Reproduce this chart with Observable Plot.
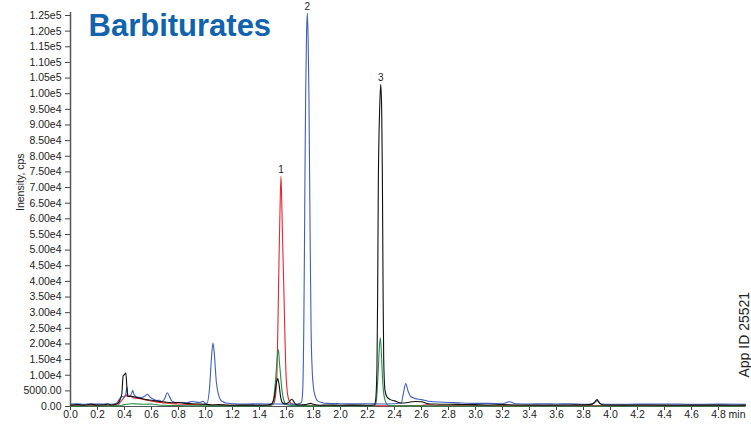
<!DOCTYPE html>
<html>
<head>
<meta charset="utf-8">
<script src="https://cdn.jsdelivr.net/npm/d3@7"></script>
<script src="https://cdn.jsdelivr.net/npm/@observablehq/plot@0.6"></script>
<style>
  body { margin: 0; background: #fff; }
  g[aria-label="title"] text { letter-spacing: 0.9px; }
</style>
</head>
<body>
<div id="chart"></div>
<script>
// Retention time (min) and intensity (cps) for each extracted ion trace.
const timeGreen = [0.00, 0.20, 0.35, 0.40, 0.45, 0.50, 0.55, 0.60, 0.65, 0.70, 0.80, 1.00, 1.20, 1.45, 1.49, 1.505, 1.52, 1.532, 1.54, 1.548, 1.558, 1.567, 1.58, 1.60, 1.70, 2.00, 2.25, 2.262, 2.27, 2.28, 2.288, 2.295, 2.303, 2.31, 2.318, 2.33, 2.345, 2.37, 2.50, 3.00, 3.50, 4.00, 4.50, 5.00];
const intGreen  = [150, 150, 200, 600, 900, 800, 700, 800, 500, 400, 300, 200, 200, 200, 500, 2500, 9000, 16000, 18200, 14000, 9000, 5000, 2000, 600, 200, 150, 200, 1000, 4000, 12000, 19000, 22000, 17000, 10000, 5000, 2000, 600, 200, 200, 150, 150, 150, 150, 150];

const timeRed = [0.00, 0.10, 0.20, 0.30, 0.35, 0.37, 0.39, 0.41, 0.42, 0.44, 0.47, 0.50, 0.55, 0.60, 0.65, 0.70, 0.75, 0.80, 0.90, 1.00, 1.10, 1.20, 1.30, 1.40, 1.48, 1.50, 1.51, 1.52, 1.53, 1.538, 1.545, 1.552, 1.559, 1.566, 1.573, 1.58, 1.587, 1.595, 1.605, 1.62, 1.64, 1.67, 1.80, 2.00, 2.20, 2.40, 2.60, 2.65, 2.70, 3.00, 3.50, 4.00, 4.50, 5.00];
const intRed  = [300, 250, 300, 250, 400, 1500, 2500, 3800, 3200, 3400, 2700, 2600, 2200, 1700, 1400, 1100, 900, 800, 600, 500, 450, 400, 350, 350, 400, 600, 1500, 4000, 12000, 30000, 48000, 63000, 73600, 63000, 50000, 38000, 25000, 12000, 5000, 1800, 800, 400, 300, 300, 250, 250, 300, 600, 300, 300, 250, 300, 250, 250];

const timeBlue = [0.00, 0.05, 0.10, 0.15, 0.20, 0.25, 0.30, 0.34, 0.36, 0.38, 0.40, 0.41, 0.418, 0.425, 0.44, 0.455, 0.462, 0.47, 0.49, 0.52, 0.55, 0.569, 0.59, 0.62, 0.64, 0.658, 0.675, 0.695, 0.717, 0.735, 0.75, 0.78, 0.82, 0.86, 0.90, 0.93, 0.96, 0.98, 1.00, 1.01, 1.03, 1.045, 1.055, 1.065, 1.08, 1.095, 1.11, 1.13, 1.15, 1.20, 1.30, 1.40, 1.50, 1.60, 1.68, 1.71, 1.72, 1.728, 1.733, 1.737, 1.742, 1.748, 1.754, 1.760, 1.766, 1.771, 1.776, 1.782, 1.79, 1.80, 1.815, 1.83, 1.86, 1.90, 2.00, 2.10, 2.20, 2.30, 2.40, 2.45, 2.465, 2.483, 2.50, 2.52, 2.55, 2.60, 2.65, 2.70, 2.80, 2.90, 3.00, 3.10, 3.20, 3.25, 3.30, 3.40, 3.50, 3.60, 3.70, 3.80, 3.87, 3.90, 3.93, 4.00, 4.20, 4.40, 4.60, 4.80, 5.00];
const intBlue  = [800, 900, 700, 850, 750, 800, 700, 1000, 2200, 3300, 3000, 4000, 6200, 3500, 3200, 4500, 5200, 3800, 3000, 2900, 3300, 3900, 3000, 2200, 1900, 2000, 1600, 2300, 4400, 3000, 1800, 1300, 1300, 1200, 1600, 1400, 1300, 1700, 1000, 1000, 6000, 16000, 20300, 17000, 8000, 4000, 2200, 1500, 1100, 900, 800, 850, 800, 750, 800, 1200, 5000, 25000, 50000, 75000, 100000, 118000, 125800, 118000, 100000, 75000, 50000, 25000, 12000, 6000, 3000, 1800, 1300, 1000, 900, 850, 900, 800, 900, 1100, 4000, 7300, 5000, 3200, 2600, 2200, 1700, 1500, 1300, 1100, 1000, 1000, 900, 1500, 900, 800, 900, 800, 850, 700, 900, 1800, 800, 700, 750, 800, 700, 750, 700];

const timeBlack = [0.00, 0.05, 0.10, 0.15, 0.20, 0.25, 0.28, 0.30, 0.34, 0.36, 0.38, 0.39, 0.40, 0.41, 0.418, 0.425, 0.45, 0.48, 0.52, 0.56, 0.60, 0.65, 0.70, 0.75, 0.80, 0.85, 0.90, 0.95, 1.00, 1.05, 1.10, 1.20, 1.30, 1.40, 1.46, 1.49, 1.51, 1.525, 1.535, 1.545, 1.555, 1.57, 1.59, 1.62, 1.638, 1.655, 1.67, 1.70, 1.74, 1.78, 1.80, 1.85, 1.90, 2.00, 2.10, 2.20, 2.25, 2.26, 2.27, 2.275, 2.28, 2.29, 2.298, 2.305, 2.31, 2.315, 2.32, 2.33, 2.345, 2.37, 2.40, 2.43, 2.46, 2.50, 2.55, 2.60, 2.65, 2.70, 2.80, 2.90, 3.00, 3.10, 3.20, 3.30, 3.50, 3.70, 3.85, 3.88, 3.90, 3.92, 3.95, 4.10, 4.30, 4.50, 4.70, 4.90, 5.00];
const intBlack  = [500, 600, 450, 700, 500, 550, 800, 500, 700, 1500, 4000, 9800, 10200, 10700, 6000, 3200, 3300, 3000, 2600, 2200, 2000, 1700, 1400, 1200, 1300, 1000, 900, 800, 700, 500, 600, 400, 450, 400, 500, 900, 3000, 7500, 8900, 7000, 3500, 1200, 800, 1500, 2300, 1500, 600, 500, 600, 1000, 700, 400, 500, 400, 450, 400, 500, 2000, 12000, 35000, 70000, 95000, 103000, 95000, 75000, 40000, 15000, 5000, 3000, 2200, 1800, 1300, 1100, 1300, 1600, 1500, 900, 800, 700, 650, 600, 500, 600, 500, 450, 500, 600, 1200, 2200, 1000, 500, 450, 500, 400, 450, 400, 450];

// Peak numbers, each placed on the apex of its trace.
const peakNames = ["1", "2", "3"];
const peakTraces = ["red", "blue", "black"];

// Axis ticks.
const xTicks = [0.0, 0.2, 0.4, 0.6, 0.8, 1.0, 1.2, 1.4, 1.6, 1.8, 2.0, 2.2, 2.4, 2.6, 2.8, 3.0, 3.2, 3.4, 3.6, 3.8, 4.0, 4.2, 4.4, 4.6, 4.8];
const yTicks = d3.range(0, 125001, 5000);

const traces = [
  {name: "red",   color: "#e8262d", t: timeRed,   v: intRed},
  {name: "green", color: "#1d9148", t: timeGreen, v: intGreen},
  {name: "blue",  color: "#3f5fbd", t: timeBlue,  v: intBlue},
  {name: "black", color: "#111111", t: timeBlack, v: intBlack}
];
const rowsOf = (s) => s.t.map((t, i) => ({t, v: s.v[i]}));

const peaks = peakNames.map((label, i) => {
  const s = traces.find(d => d.name === peakTraces[i]);
  const apex = d3.greatest(rowsOf(s), d => d.v);
  return {label, t: apex.t, v: apex.v};
});

const fmtY = (v) => v === 0 ? "0.00" : v < 10000 ? v.toFixed(2) : v.toExponential(2).replace("+", "");
const font = "'Liberation Sans', Arial, Helvetica, sans-serif";

const chart = Plot.plot({
  width: 751,
  height: 426,
  marginLeft: 70,
  marginRight: 6,
  marginTop: 15,
  marginBottom: 20,
  style: {fontFamily: font, fontSize: "10.5px", color: "#222", background: "#fff"},
  x: {domain: [0, 5.0]},
  y: {domain: [0, 125000]},
  marks: [
    Plot.axisY({ticks: yTicks, tickFormat: fmtY, tickSize: 5, tickPadding: 4, label: null, stroke: "#444"}),
    Plot.axisX({ticks: xTicks, tickFormat: d => d.toFixed(1), tickSize: 4, tickPadding: 0, label: null, stroke: "#444"}),
    Plot.ruleX([0], {stroke: "#555", strokeWidth: 1.5, insetTop: -3}),
    Plot.ruleY([0], {stroke: "#555", strokeWidth: 1.2}),
    ...traces.map(s => Plot.line(rowsOf(s), {x: "t", y: "v", stroke: s.color, strokeWidth: 1.1, curve: "monotone-x"})),
    Plot.text(peaks, {x: "t", y: "v", text: "label", dy: -3, lineAnchor: "bottom", fontSize: 10, fill: "#222"}),
    Plot.text(["Barbiturates"], {frameAnchor: "top-left", dx: 18, dy: -2, textAnchor: "start", lineAnchor: "top", fontSize: 31, fontWeight: "bold", fill: "#1263ad", ariaLabel: "title"}),
    Plot.text(["Inensity, cps"], {frameAnchor: "left", dx: -50, rotate: -90, fontSize: 10.5, fill: "#222"}),
    Plot.text(["min"], {frameAnchor: "bottom-right", dx: 0, dy: 4, textAnchor: "end", lineAnchor: "top", fontSize: 10.5, fill: "#222"}),
    Plot.text(["App ID 25521"], {frameAnchor: "bottom-right", dx: 3, dy: -29, rotate: -90, textAnchor: "start", lineAnchor: "bottom", fontSize: 14, fill: "#222"})
  ]
});

document.getElementById("chart").append(chart);
</script>
</body>
</html>
